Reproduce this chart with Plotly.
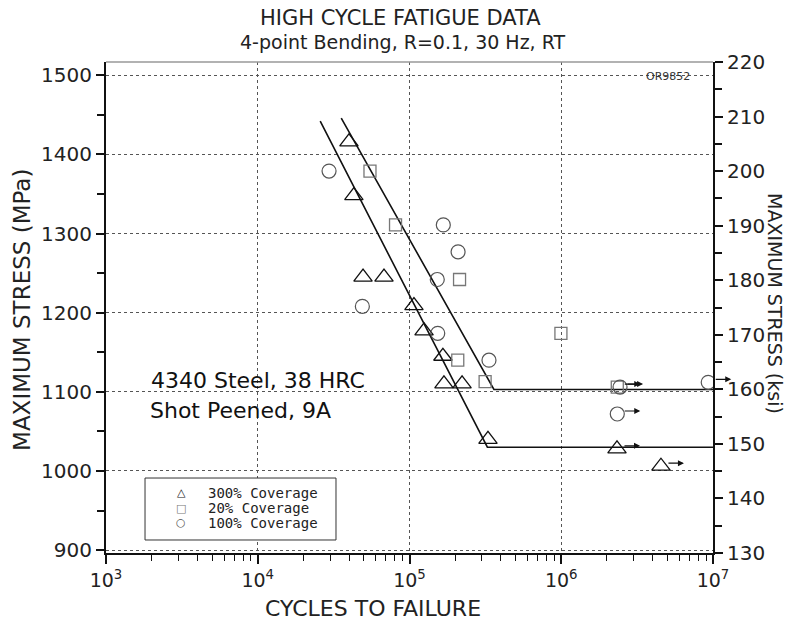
import math
import plotly.graph_objects as go

# ---------------- data ----------------
MPA_PER_KSI = 6.89476

tri_cycles = [39900, 43000, 49400, 67900, 107000, 124700, 166000, 168700, 222000, 329000, 2330000, 4540000]
tri_stress = [1416, 1348, 1245, 1245, 1209, 1177, 1145, 1110, 1110, 1040, 1028, 1006]
tri_runout = [False, False, False, False, False, False, False, False, False, False, True, True]

sq_cycles = [54900, 80900, 213700, 208000, 315000, 995000, 2340000]
sq_stress = [1379, 1311, 1242, 1140, 1113, 1174, 1106]
sq_runout = [False, False, False, False, False, False, True]

circ_cycles = [29500, 48900, 167000, 209000, 152400, 153500, 334000, 2440000, 2340000, 9300000]
circ_stress = [1379, 1208, 1311, 1277, 1242, 1174, 1140, 1106, 1072, 1112]
circ_runout = [False, False, False, False, False, False, False, True, True, True]

fit_upper_cycles = [35500, 360000, 10000000]
fit_upper_stress = [1446, 1103, 1103]
fit_lower_cycles = [25800, 326000, 10000000]
fit_lower_stress = [1442, 1030, 1030]

x_tick_vals = [1e3, 1e4, 1e5, 1e6, 1e7]
x_tick_text = ["10<sup>3</sup>", "10<sup>4</sup>", "10<sup>5</sup>", "10<sup>6</sup>", "10<sup>7</sup>"]
y_mpa_ticks = [900, 1000, 1100, 1200, 1300, 1400, 1500]
y_ksi_ticks = [130, 140, 150, 160, 170, 180, 190, 200, 210, 220]

series_names = ["300% Coverage", "20% Coverage", "100% Coverage"]
legend_glyphs = ["\u25b3", "\u25a1", "\u25cb"]

# ---------------- figure ----------------
FONT = "DejaVu Sans, Liberation Sans, sans-serif"
MONO = "DejaVu Sans Mono, Liberation Mono, monospace"
fig = go.Figure()

for cx, sy in [(fit_upper_cycles, fit_upper_stress), (fit_lower_cycles, fit_lower_stress)]:
    fig.add_trace(go.Scatter(x=cx, y=sy, mode="lines", line=dict(color="#111", width=1.6),
                             showlegend=False, hoverinfo="skip"))

styles = [
    dict(symbol="triangle-up-open", size=16, color="#111", lw=1.3),
    dict(symbol="square-open", size=12, color="#777", lw=1.3),
    dict(symbol="circle-open", size=14, color="#555", lw=1.2),
]
datasets = [(tri_cycles, tri_stress, tri_runout), (sq_cycles, sq_stress, sq_runout),
            (circ_cycles, circ_stress, circ_runout)]

for (cx, sy, ro), st, name in zip(datasets, styles, series_names):
    fig.add_trace(go.Scatter(x=cx, y=sy, mode="markers", name=name, showlegend=False,
                             marker=dict(symbol=st["symbol"], size=st["size"], color=st["color"],
                                         line=dict(width=st["lw"], color=st["color"]))))
    for xv, yv, r in zip(cx, sy, ro):
        if r:
            fig.add_annotation(x=math.log10(xv), y=yv, xref="x", yref="y", text="",
                               showarrow=True, arrowhead=2, arrowsize=1, arrowwidth=1.2,
                               arrowcolor="#111", ax=-17, ay=0, xshift=23, yshift=3)

fig.add_trace(go.Scatter(x=[None], y=[None], yaxis="y2", showlegend=False))

tick_font = dict(size=20, family=FONT, color="#222")
fig.update_layout(
    width=786, height=622,
    margin=dict(l=106, r=73, t=62, b=69),
    paper_bgcolor="white", plot_bgcolor="white",
    font=dict(family=FONT, color="#222"),
    showlegend=False,
    xaxis=dict(type="log", range=[3, 7], tickvals=x_tick_vals, ticktext=x_tick_text,
               ticks="outside", ticklen=9, tickwidth=1.5, tickcolor="#111",
               showline=True, linecolor="#111", linewidth=2,
               showgrid=True, gridcolor="#555", griddash="dot", gridwidth=1,
               tickfont=dict(size=19, family=FONT, color="#222"),
               minor=dict(tickvals=[m * 10 ** e for e in range(3, 7) for m in range(2, 10)],
                          ticks="outside", ticklen=6, tickwidth=1.2, tickcolor="#111", showgrid=False),
               zeroline=False),
    yaxis=dict(range=[130 * MPA_PER_KSI, 220 * MPA_PER_KSI], tickvals=y_mpa_ticks,
               ticks="outside", ticklen=8, tickwidth=2, tickcolor="#111",
               showline=True, linecolor="#111", linewidth=2,
               showgrid=True, gridcolor="#555", griddash="dot", gridwidth=1,
               tickfont=tick_font,
               minor=dict(dtick=50, ticks="outside", ticklen=7, tickwidth=2, tickcolor="#111", showgrid=False),
               zeroline=False),
    yaxis2=dict(overlaying="y", side="right", range=[130, 220], tickvals=y_ksi_ticks,
                ticks="outside", ticklen=8, tickwidth=2, tickcolor="#111",
                showline=True, linecolor="#111", linewidth=2, showgrid=False,
                tickfont=tick_font,
                minor=dict(dtick=5, ticks="outside", ticklen=7, tickwidth=2, tickcolor="#111", showgrid=False),
                zeroline=False),
)

fig.add_shape(type="line", xref="paper", yref="paper", x0=0, x1=1, y0=1, y1=1,
              line=dict(color="#999", width=1.5))


def note(text, x, y, size, xshift=0, yshift=0, angle=0, xanchor="center", color="#222", family=FONT):
    fig.add_annotation(text=text, xref="paper", yref="paper", x=x, y=y, xshift=xshift, yshift=yshift,
                       xanchor=xanchor, yanchor="middle", textangle=angle, showarrow=False,
                       font=dict(size=size, family=family, color=color))


note("HIGH CYCLE FATIGUE DATA", 0.485, 1.0, 21, yshift=44)
note("4-point Bending, R=0.1, 30 Hz, RT", 0.49, 1.0, 19, yshift=20)
note("CYCLES TO FAILURE", 0.44, 0.0, 22, yshift=-55)
note("MAXIMUM STRESS (MPa)", 0.0, 0.495, 23, xshift=-84, angle=-90)
note("MAXIMUM STRESS (ksi)", 1.0, 0.509, 19, xshift=62, angle=90)
note("4340 Steel, 38 HRC", 0.25, 0.351, 22, color="#111")
note("Shot Peened, 9A", 0.221, 0.29, 22, color="#111")
note("OR9852", 0.926, 0.971, 11, color="#333")

# legend box
fig.add_shape(type="rect", xref="paper", yref="paper", x0=0.0643, x1=0.3789, y0=0.0265, y1=0.1527,
              line=dict(color="#333", width=1), fillcolor="white", layer="above")
legend_rows = [0.1222, 0.0916, 0.0611]
for glyph, name, st, ry in zip(legend_glyphs, series_names, styles, legend_rows):
    note(glyph, 0.1236, ry, 11, color=st["color"], family=FONT)
    note(name, 0.1647, ry, 14, xanchor="left", color="#222", family=MONO)

fig.write_html("out.html", config={"displayModeBar": False},
               post_script="document.body.style.margin='0';document.body.style.overflow='hidden';")
